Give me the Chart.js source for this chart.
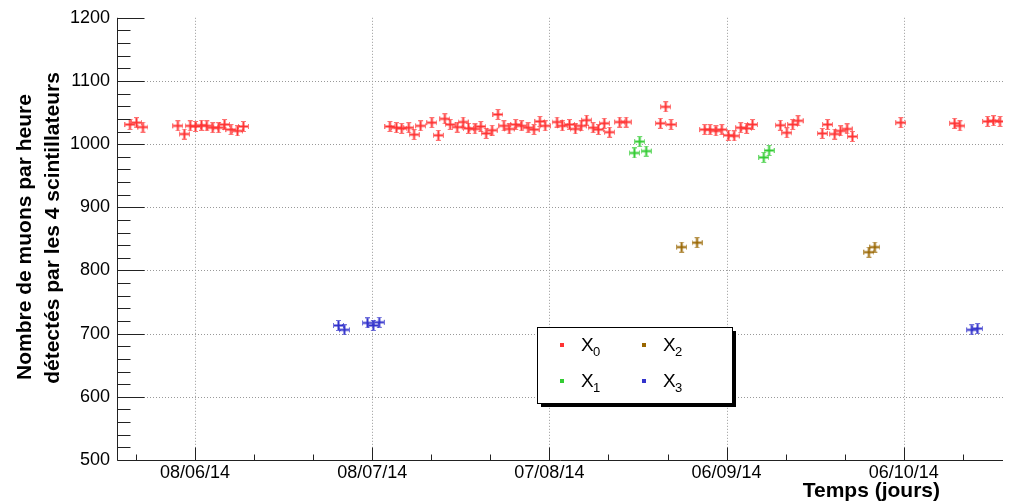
<!DOCTYPE html>
<html>
<head>
<meta charset="utf-8">
<script src="https://cdn.jsdelivr.net/npm/chart.js@4.4.0/dist/chart.umd.min.js"></script>
<style>
  html, body { margin: 0; padding: 0; background: #fff; }
  #wrap { width: 1013px; height: 503px; position: relative; }
</style>
</head>
<body>
<div id="wrap"><canvas id="c"></canvas></div>
<script>
// x values are days counted from 08/06/14
const dateTicks = [0, 30, 60, 90, 120];
const dateLabels = ['08/06/14', '08/07/14', '07/08/14', '06/09/14', '06/10/14'];
const yTicks = [500, 600, 700, 800, 900, 1000, 1100, 1200];

// X0 (red)
const x0Days = [-11.0, -9.9, -8.8, -2.9, -1.8, -0.8, 0.1, 1.1, 2.0, 3.0, 4.0, 5.0, 6.1, 7.2, 8.2,
  33.0, 34.1, 35.0, 36.2, 37.1, 38.2, 40.1, 41.2, 42.3, 43.2, 44.4, 45.4, 46.3, 47.4, 48.4, 49.3,
  50.3, 51.3, 52.3, 53.2, 54.3, 55.3, 56.4, 57.4, 58.4, 59.3,
  61.3, 62.2, 63.4, 64.4, 65.4, 66.3, 67.4, 68.3, 69.3, 70.2, 71.9, 73.0,
  78.8, 79.7, 80.6,
  86.3, 87.2, 88.2, 89.2, 90.3, 91.3, 92.4, 93.4, 94.4,
  99.1, 100.2, 101.2, 102.1,
  106.2, 107.1, 108.3, 109.3, 110.4, 111.3,
  119.5, 128.6, 129.5, 134.2, 135.2, 136.3];
const x0Values = [1031, 1034, 1027, 1029, 1016, 1029, 1028, 1030, 1029, 1026, 1026, 1031, 1023, 1021, 1028,
  1028, 1026, 1025, 1026, 1015, 1029, 1034, 1014, 1040, 1031, 1027, 1035, 1025, 1024, 1028, 1017,
  1022, 1047, 1029, 1024, 1031, 1029, 1026, 1023, 1036, 1029,
  1035, 1029, 1031, 1024, 1029, 1038, 1026, 1023, 1033, 1019, 1035, 1035,
  1033, 1059, 1031,
  1023, 1023, 1021, 1023, 1014, 1013, 1026, 1025, 1031,
  1030, 1018, 1031, 1037,
  1017, 1031, 1016, 1021, 1024, 1012,
  1034, 1033, 1029, 1036, 1037, 1036];

// X1 (green)
const x1Days = [74.4, 75.3, 76.4, 96.3, 97.2];
const x1Values = [986, 1004, 989, 979, 990];

// X2 (brown)
const x2Days = [82.4, 85.0, 114.1, 115.1];
const x2Values = [837, 844, 829, 837];

// X3 (blue)
const x3Days = [24.3, 25.3, 29.2, 30.2, 31.2, 131.5, 132.5];
const x3Values = [713, 706, 717, 713, 718, 706, 708];

const seriesNames = ['0', '1', '2', '3'];
const seriesColors = ['#ff3333', '#33cc33', '#996600', '#3333cc'];

function pts(days, vals) {
  return days.map((d, i) => ({ x: d, y: vals[i] }));
}

// cross marker with small error-bar caps, like the ROOT graph
function marker(color) {
  const cv = document.createElement('canvas');
  cv.width = 11; cv.height = 11;
  const g = cv.getContext('2d');
  g.fillStyle = color;
  g.fillRect(1, 4.5, 9, 2);
  g.fillRect(4.5, 1, 2, 9);
  g.globalAlpha = 0.7;
  g.fillRect(0, 3, 1, 5);
  g.fillRect(10, 3, 1, 5);
  g.fillRect(3, 0, 5, 1);
  g.fillRect(3, 10, 5, 1);
  return cv;
}

const rootFrame = {
  id: 'rootFrame',
  beforeDatasetsDraw(chart) {
    const { ctx, chartArea: a, scales: { x, y } } = chart;
    ctx.save();
    ctx.strokeStyle = '#999';
    ctx.lineWidth = 1;
    ctx.setLineDash([1, 2]);
    dateTicks.forEach(v => {
      const px = Math.round(x.getPixelForValue(v)) + 0.5;
      ctx.beginPath(); ctx.moveTo(px, a.top); ctx.lineTo(px, a.bottom); ctx.stroke();
    });
    yTicks.forEach(v => {
      if (v === 500 || v === 1200) return;
      const py = Math.round(y.getPixelForValue(v)) + 0.5;
      ctx.beginPath(); ctx.moveTo(a.left, py); ctx.lineTo(a.right, py); ctx.stroke();
    });
    ctx.restore();
  },
  afterDatasetsDraw(chart) {
    const { ctx, chartArea: a, scales: { x, y } } = chart;
    ctx.save();
    ctx.strokeStyle = '#222';
    ctx.lineWidth = 1;
    // axes
    const ax = Math.round(a.left) + 0.5, ay = Math.round(a.bottom) + 0.5;
    ctx.beginPath(); ctx.moveTo(ax, a.top); ctx.lineTo(ax, ay); ctx.lineTo(a.right, ay); ctx.stroke();
    // y ticks
    for (let v = 500; v <= 1200; v += 20) {
      const py = Math.round(y.getPixelForValue(v)) + 0.5;
      const len = v % 100 === 0 ? 27 : 13;
      ctx.beginPath(); ctx.moveTo(ax, py); ctx.lineTo(ax + len, py); ctx.stroke();
    }
    // x ticks
    for (let d = -10; d <= 130; d += 10) {
      const px = Math.round(x.getPixelForValue(d)) + 0.5;
      const len = dateTicks.includes(d) ? 13 : 6;
      ctx.beginPath(); ctx.moveTo(px, ay); ctx.lineTo(px, ay - len); ctx.stroke();
    }
    // axis titles
    ctx.fillStyle = '#000';
    ctx.font = 'bold 21px "Liberation Sans", Arial, sans-serif';
    ctx.textAlign = 'right';
    ctx.textBaseline = 'alphabetic';
    ctx.fillText('Temps (jours)', 940, 497);
    ctx.save();
    ctx.rotate(-Math.PI / 2);
    ctx.textAlign = 'center';
    ctx.fillText('Nombre de muons par heure', -237, 31);
    ctx.fillText('détectés par les 4 scintillateurs', -228, 59);
    ctx.restore();
    // legend box with shadow
    ctx.fillStyle = '#000';
    ctx.fillRect(733, 331, 3, 76);
    ctx.fillRect(541, 404, 195, 3);
    ctx.fillStyle = '#fff';
    ctx.fillRect(537.5, 327.5, 195, 76);
    ctx.strokeStyle = '#000';
    ctx.strokeRect(537.5, 327.5, 195, 76);
    const pos = [[562, 345], [562, 381], [644, 345], [644, 381]];
    seriesNames.forEach((n, i) => {
      const [cx, cy] = pos[i];
      ctx.fillStyle = seriesColors[i];
      ctx.fillRect(cx - 2, cy - 2, 4, 4);
      ctx.fillStyle = '#000';
      ctx.textAlign = 'left';
      ctx.font = '19px "Liberation Sans", Arial, sans-serif';
      ctx.fillText('X', cx + 19, cy + 6);
      ctx.font = '13px "Liberation Sans", Arial, sans-serif';
      ctx.fillText(n, cx + 31, cy + 11);
    });
    ctx.restore();
  }
};

const datasets = [
  pts(x0Days, x0Values), pts(x1Days, x1Values), pts(x2Days, x2Values), pts(x3Days, x3Values)
].map((data, i) => ({
  label: 'X' + seriesNames[i],
  data: data,
  pointStyle: marker(seriesColors[i]),
  pointRadius: 5,
  showLine: false
}));

new Chart(document.getElementById('c'), {
  type: 'scatter',
  data: { datasets: datasets },
  options: {
    responsive: true,
    maintainAspectRatio: false,
    animation: false,
    events: [],
    layout: { padding: { left: 0, top: 13, right: 10, bottom: 0 } },
    plugins: { legend: { display: false }, tooltip: { enabled: false } },
    scales: {
      x: {
        type: 'linear',
        min: -13.2,
        max: 136.8,
        afterBuildTicks: s => { s.ticks = dateTicks.map(v => ({ value: v })); },
        afterFit: s => { s.height = 43; },
        grid: { display: false, drawTicks: false },
        border: { display: false },
        ticks: {
          autoSkip: false,
          maxRotation: 0,
          padding: 2,
          color: '#000',
          font: { family: '"Liberation Sans", Arial, sans-serif', size: 18 },
          callback: v => dateLabels[dateTicks.indexOf(v)]
        }
      },
      y: {
        min: 500,
        max: 1200,
        afterBuildTicks: s => { s.ticks = yTicks.map(v => ({ value: v })); },
        afterFit: s => { s.width = 117; },
        grid: { display: false, drawTicks: false },
        border: { display: false },
        ticks: {
          padding: 7,
          color: '#000',
          font: { family: '"Liberation Sans", Arial, sans-serif', size: 18 },
          callback: v => String(v)
        }
      }
    }
  },
  plugins: [rootFrame]
});
</script>
</body>
</html>
